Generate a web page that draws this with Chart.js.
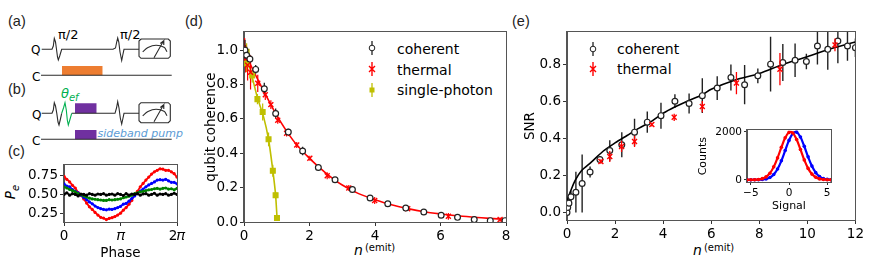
<!DOCTYPE html>
<html><head><meta charset="utf-8">
<style>
html,body{margin:0;padding:0;background:#fff;width:872px;height:275px;overflow:hidden}
canvas{position:absolute}
.t{position:absolute;white-space:nowrap;transform:translateY(-50%);color:#000;font-family:"DejaVu Sans",sans-serif;line-height:1}
.p{font-family:"Liberation Sans",sans-serif;font-size:14.5px;color:#222}
.l{font-size:14px}
.s{position:absolute}
</style>
<script src="https://cdn.jsdelivr.net/npm/chart.js@4"></script>
</head><body>
<div class="t p" style="left:8px;top:21px">(a)</div>
<div class="t p" style="left:8px;top:89px">(b)</div>
<div class="t p" style="left:8px;top:151px">(c)</div>
<div class="t p" style="left:185px;top:21px">(d)</div>
<div class="t p" style="left:512px;top:21px">(e)</div>
<div class="t" style="left:58px;top:34px;font-size:13px">π/2</div>
<div class="t" style="left:120px;top:34px;font-size:13px">π/2</div>
<div class="t" style="left:31px;top:50px;font-size:12px">Q</div>
<div class="t" style="left:32px;top:77px;font-size:12px">C</div>
<div class="t" style="left:32px;top:115px;font-size:12px">Q</div>
<div class="t" style="left:32px;top:141px;font-size:12px">C</div>
<div class="t" style="left:61px;top:93px;font-size:13px;font-style:italic;color:#00b050">θ<sub style="font-size:10px;line-height:0">ef</sub></div>
<div class="t" style="left:97.5px;top:133px;font-size:11px;font-style:italic;color:#5b9bd5">sideband pump</div>
<div class="t" style="left:4px;top:192px;font-size:13.5px;transform:translateY(-50%) rotate(-90deg);font-style:italic">P<sub style="font-size:10px;line-height:0">e</sub></div>
<div class="t" style="left:354px;top:250px;font-size:14px;font-style:italic">n<span style="position:relative;top:-4px;left:2px;font-size:10px;font-style:normal">(emit)</span></div>
<div class="t" style="left:693px;top:250px;font-size:14px;font-style:italic">n<span style="position:relative;top:-4px;left:2px;font-size:10px;font-style:normal">(emit)</span></div>

<svg class="s" style="left:365px;top:41px" width="14" height="14"><path d="M7 0V14" stroke="#222" stroke-width="1.3"/><circle cx="7" cy="7" r="2.8" fill="#fff" stroke="#222"/></svg>
<svg class="s" style="left:365px;top:62px" width="14" height="14"><path d="M7 0V14M4 4L10 10M10 4L4 10" stroke="#f00" stroke-width="1.4"/></svg>
<svg class="s" style="left:365px;top:83px" width="14" height="14"><path d="M7 0V14" stroke="#bfbf00" stroke-width="1.3"/><rect x="4.5" y="4.5" width="5" height="5" fill="#bfbf00"/></svg>
<div class="t l" style="left:397px;top:49px">coherent</div>
<div class="t l" style="left:397px;top:70px">thermal</div>
<div class="t l" style="left:397px;top:90px">single-photon</div>
<svg class="s" style="left:586px;top:42px" width="14" height="14"><path d="M7 0V14" stroke="#222" stroke-width="1.3"/><circle cx="7" cy="7" r="2.8" fill="#fff" stroke="#222"/></svg>
<svg class="s" style="left:586px;top:62px" width="14" height="14"><path d="M7 0V14M4 4L10 10M10 4L4 10" stroke="#f00" stroke-width="1.4"/></svg>
<div class="t l" style="left:617px;top:49px">coherent</div>
<div class="t l" style="left:617px;top:69px">thermal</div>

<script>
// ---------- panel (c)
const phase=[0,.05,.1,.15,.2,.25,.3,.35,.4,.45,.5,.55,.6,.65,.7,.75,.8,.85,.9,.95,1,1.05,1.1,1.15,1.2,1.25,1.3,1.35,1.4,1.45,1.5,1.55,1.6,1.65,1.7,1.75,1.8,1.85,1.9,1.95,2];
const peRed=[.74,.70,.665,.62,.585,.525,.49,.44,.385,.335,.30,.26,.225,.195,.185,.165,.18,.19,.205,.225,.25,.29,.325,.37,.42,.50,.54,.60,.645,.69,.73,.77,.80,.82,.84,.835,.82,.82,.80,.775,.73];
const peBlue=[.64,.61,.60,.565,.54,.52,.49,.46,.43,.40,.375,.345,.325,.31,.30,.295,.305,.30,.31,.325,.34,.37,.38,.41,.445,.48,.51,.545,.57,.60,.625,.645,.665,.69,.695,.69,.70,.68,.66,.66,.64];
const peGreen=[.60,.585,.565,.55,.535,.51,.495,.48,.465,.45,.44,.435,.43,.425,.42,.42,.43,.425,.43,.435,.44,.455,.465,.475,.49,.51,.52,.535,.54,.55,.56,.565,.575,.58,.57,.58,.585,.57,.575,.56,.58];
const peBlack=[.50,.52,.49,.51,.50,.48,.505,.50,.49,.51,.50,.49,.505,.50,.51,.49,.50,.505,.49,.51,.50,.485,.51,.49,.505,.50,.51,.49,.505,.51,.49,.50,.515,.49,.505,.50,.51,.49,.50,.515,.50];
const phaseTicks={0:"0",1:"𝜋",2:"2𝜋"};
// ---------- panel (d)
const cohDx=[.03,.08,.18,.357,.62,.967,1.353,1.79,2.27,2.78,3.31,3.85,4.39,4.94,5.49,6.02,6.52,7.03,7.52,7.97];
const cohDy=[1.0,.97,.948,.888,.775,.631,.523,.413,.317,.246,.189,.14,.106,.081,.058,.039,.027,.014,.008,.008];
const cohDe=[.06,.05,.025,.025,.035,.03,.02,.025,.012,.012,.018,.01,.008,.012,.008,.008,.006,.006,.006,.006];
const thDx=[.02,.05,.11,.2,.42,.65,.82,1.03,1.3,1.61,2.01,2.54,3.2,3.99,5,6.24,7.82];
const thDy=[1.0,.95,.913,.871,.807,.74,.683,.592,.516,.448,.371,.269,.198,.125,.077,.033,.014];
const thDe=[.07,.08,.09,.1,.05,.03,.025,.02,.018,.018,.015,.02,.018,.02,.012,.02,.012];
const spX=[.08,.08,.25,.41,.57,.75,.88,.965,1.007];
const spY=[.99,.923,.852,.715,.64,.481,.298,.156,.023];
const spE=[.05,.05,.04,.03,.05,.04,.035,.02,.012];
const spFitX=[0,.2,.4,.6,.75,.88,.965,1.01];
const spFitY=[1.0,.88,.73,.61,.48,.3,.156,.02];
const fitDx=[0,.2,.5,1,1.5,2,2.5,3,3.5,4,4.5,5,5.5,6,6.5,7,7.5,8];
const fitDy=[1.0,.915,.80,.62,.475,.37,.285,.215,.165,.13,.1,.078,.06,.047,.036,.028,.021,.016];
// ---------- panel (e)
const cohEx=[0,.03,.08,.165,.37,.63,.96,1.37,1.78,2.28,2.81,3.34,3.91,4.49,5.08,5.63,6.25,6.82,7.39,7.94,8.47,8.98,9.49,9.96,10.42,10.85,11.27,11.67,12];
const cohEy=[0,.027,.05,.084,.109,.156,.218,.285,.334,.365,.433,.487,.522,.6,.588,.63,.671,.728,.689,.737,.8,.809,.821,.814,.898,.88,.925,.898,.889];
const cohEe=[.02,.03,.03,.03,.11,.157,.03,.02,.055,.067,.073,.057,.07,.037,.054,.094,.064,.07,.106,.04,.148,.1,.09,.042,.1,.11,.12,.08,.05];
const thEx=[1.41,1.78,2.27,2.81,3.53,4.46,5.63,7.05,8.86,11.15];
const thEy=[.275,.302,.356,.383,.474,.513,.571,.698,.773,.904];
const thEe=[.012,.03,.03,.03,.01,.02,.03,.06,.087,.035];
const fitEx=[0,.05,.15,.34,.6,1,1.5,2,2.5,3,3.5,4,4.5,5,5.63,6,7,8,9,10,11,12];
const fitEy=[.06,.08,.115,.173,.225,.27,.33,.375,.415,.455,.49,.535,.57,.60,.635,.665,.715,.75,.80,.84,.885,.92];
// ---------- inset
const signal=[-5.5,-5,-4.5,-4,-3.5,-3,-2.5,-2,-1.5,-1,-.5,0,.5,1,1.5,2,2.5,3,3.5,4,4.5,5,5.5];
const countsRed=[0,2,5,17,49,125,278,541,916,1355,1752,1978,1952,1682,1266,832,478,240,106,40,13,4,0];
const countsBlue=[0,0,1,3,12,37,97,223,450,794,1223,1645,1935,1988,1784,1400,958,574,300,137,55,19,6];
const countTicks=[0,2000];
// ---------- schematic
const qA=[[41.7,49.3],[52,49.3],[53.3,46],[54.3,38.5],[55.5,42],[56.5,49.3],[57.5,57],[58.3,60],[59.7,56],[61.7,49.3],[113,49.3],[115.5,48],[116.7,42],[117.7,38],[118.8,42],[120,52],[121.7,60.5],[122.8,55],[124,49.3],[139,49.3]];
const cA=[[41,75.3],[171.7,75.3]];
const orangeX=[62,102.7];
const orangeTop=66, orangeBase=75.3;
const qB1=[[41.7,113.3],[52,113.3],[53.3,110],[54.3,102.7],[55.5,106],[56.8,113.3],[58,122],[59,125],[60.2,120],[61.7,113.3]];
const qBg=[[61.7,113.3],[63.5,108],[65,102.7],[66.3,110],[67.3,120],[68.3,125],[69.8,120],[71.7,113.3]];
const qB2=[[71.7,113.3],[115,113.3],[116.5,108],[117.7,101.7],[119,108],[120.3,118],[121.7,124],[122.8,119],[124,113.3],[139,113.3]];
const cB=[[41,139.3],[171.7,139.3]];
const purpleX=[75,96.7];
const purpleTop1=103.3, purpleBase1=113.3, purpleTop2=130, purpleBase2=139.3;
const boxA=[[141,39],[168.3,39],[170.3,41],[170.3,56.3],[168.3,58.3],[141,58.3],[139,56.3],[139,41],[141,39]];
const arcA=[[142.7,51.7],[148,47.5],[156,45.3],[164,47.3],[167,51.7]];
const needleA=[[154,57.7],[163.5,41],[160.3,43.5],[163.5,41],[163.8,45]];
const boxB=[[141,102.7],[168.3,102.7],[170.3,104.7],[170.3,120.7],[168.3,122.7],[141,122.7],[139,120.7],[139,104.7],[141,102.7]];
const arcB=[[142.7,115.7],[148,111.5],[156,109.3],[164,111.3],[167,115.7]];
const needleB=[[154,121.7],[163.5,105],[160.3,107.5],[163.5,105],[163.8,109]];

Chart.defaults.font.family='"DejaVu Sans",sans-serif';
Chart.defaults.color='#000';
const xy=(a,b)=>a.map((v,i)=>({x:v,y:b[i]}));
const pairs=a=>a.map(p=>({x:p[0],y:p[1]}));
const bars=(x,y,e)=>x.flatMap((v,i)=>[{x:v,y:y[i]-e[i]},{x:v,y:y[i]+e[i]},{x:v,y:null}]);
const frame={id:'frame',afterDatasetsDraw(c){const a=c.chartArea,g=c.ctx;g.save();g.strokeStyle='#555';g.lineWidth=1;
  g.strokeRect(Math.round(a.left)-.5,Math.round(a.top)-.5,Math.round(a.right-a.left)+1,Math.round(a.bottom-a.top)+1);g.restore();}};
function panel(box,plot,type,o){
  const [L,T,R,B]=box,[pL,pT,pR,pB]=plot;
  const cv=document.createElement('canvas');
  cv.width=R-L;cv.height=B-T;cv.style.left=L+'px';cv.style.top=T+'px';cv.style.width=(R-L)+'px';cv.style.height=(B-T)+'px';
  document.body.appendChild(cv);
  const fs=o.font, tl=o.tick||4;
  const ax=(extra,afterFit)=>Object.assign({type:'linear',grid:{drawOnChartArea:false,drawTicks:true,tickLength:tl,color:'#333'},border:{color:'#555'},afterFit},extra);
  const tk=(extra)=>Object.assign({font:{size:fs},color:'#000',padding:2,maxRotation:0,minRotation:0,autoSkip:false,includeBounds:false},extra);
  const yOpts=ax({min:o.y[0],max:o.y[1],title:o.yt?{display:true,text:o.yt,font:{size:o.tf||fs},padding:0,color:'#000'}:{display:false},
        ticks:tk({stepSize:o.y[2],callback:o.yf})},s=>{s.width=pL-L});
  if(o.yTicks) yOpts.afterBuildTicks=s=>{s.ticks=o.yTicks.map(v=>({value:v}))};
  new Chart(cv,{type:'line',data:{datasets:o.datasets},plugins:[frame],options:{
    responsive:false,animation:false,devicePixelRatio:1,
    layout:{autoPadding:false,padding:{left:0,bottom:0,top:pT-T,right:R-pR}},
    plugins:{legend:{display:false},tooltip:{enabled:false}},
    elements:{line:{borderCapStyle:'butt'}},
    scales:{
      x:ax({min:o.x[0],max:o.x[1],title:o.xt?{display:true,text:o.xt,font:{size:o.tf||fs},padding:0,color:'#000'}:{display:false},
        ticks:tk({stepSize:o.x[2],callback:o.xf||(v=>String(v).replace('-','\u2212'))})},s=>{s.height=B-pB}),
      y:yOpts
    }}});
}
const line=(data,color,w,extra)=>Object.assign({data,borderColor:color,borderWidth:w,pointRadius:0,fill:false,tension:0,spanGaps:false},extra||{});
const pts=(data,color,style,r,bg,extra)=>Object.assign({data,showLine:false,pointStyle:style,pointRadius:r,pointBorderColor:color,pointBackgroundColor:bg,pointBorderWidth:1.2},extra||{});

// schematic: hidden axes spanning the page region
(function(){
  const cv=document.createElement('canvas');cv.width=200;cv.height=150;cv.style.left='0';cv.style.top='0';cv.style.width='200px';cv.style.height='150px';
  document.body.appendChild(cv);
  const rect=(xs,top,base,color)=>({data:[{x:xs[0],y:top},{x:xs[1],y:top}],borderWidth:0,pointRadius:0,backgroundColor:color,fill:{target:{value:base}},tension:0});
  const k='#2b2b2b';
  const w=(d,c,t)=>line(pairs(d),c,1.1,{tension:t||0});
  new Chart(cv,{type:'line',data:{datasets:[
    w(qA,k),w(cA,k),w(qB1,k),w(qBg,'#00b050'),w(qB2,k),w(cB,k),
    w(boxA,k),w(arcA,k,.4),w(needleA,k),w(boxB,k),w(arcB,k,.4),w(needleB,k),
    rect(orangeX,orangeTop,orangeBase,'#ed7d31'),rect(purpleX,purpleTop1,purpleBase1,'#7030a0'),rect(purpleX,purpleTop2,purpleBase2,'#7030a0')
  ]},options:{responsive:false,animation:false,devicePixelRatio:1,layout:{autoPadding:false,padding:0},
    plugins:{legend:{display:false},tooltip:{enabled:false}},
    scales:{x:{type:'linear',display:false,min:0,max:200},y:{type:'linear',display:false,min:0,max:150,reverse:true}}}});
})();

// panel c
panel([0,155,195,262],[64,162,177,222],'line',{font:13.5,x:[0,2,1],y:[.133,.889,.25],xt:'Phase',
  xf:v=>phaseTicks[v],yf:v=>v.toFixed(2),
  datasets:[
   ['#000',peBlack],['#008000',peGreen],['#00f',peBlue],['#f00',peRed]
  ].map(([c,d])=>({data:xy(phase,d),borderColor:c,borderWidth:1.8,pointRadius:1.6,pointBackgroundColor:c,pointBorderWidth:0,tension:0}))});

// panel d
panel([203,22,520,262],[244,30,506,222],'line',{font:13.5,x:[0,8,2],y:[0,1.105,.2],yt:'qubit coherence',
  xf:v=>String(v),yf:v=>v.toFixed(1),
  datasets:[
   pts(xy(cohDx,cohDy),'#222','circle',2.9,'#fff'),
   pts(xy(thDx,thDy),'#f00','crossRot',3.5,'#f00',{pointBorderWidth:1.4}),
   pts(xy(spX,spY),'#bfbf00','rect',3.4,'#bfbf00'),
   line(bars(cohDx,cohDy,cohDe),'#222',1.3),
   line(bars(thDx,thDy,thDe),'#f00',1.2),
   line(xy(fitDx,fitDy),'#f00',1.6,{tension:.3}),
   line(bars(spX,spY,spE),'#bfbf00',1.2),
   line(xy(spFitX,spFitY),'#bfbf00',1.6,{tension:.2})
  ]});

// panel e
panel([522,22,866,262],[567,31,858,220],'line',{font:13.5,x:[0,12,2],y:[-.041,.973,.2],yt:'SNR',
  xf:v=>String(v),yf:v=>v.toFixed(1),
  datasets:[
   pts(xy(thEx,thEy),'#f00','crossRot',3.5,'#f00',{pointBorderWidth:1.4}),
   line(bars(thEx,thEy,thEe),'#f00',1.3),
   pts(xy(cohEx,cohEy),'#222','circle',2.9,'#fff'),
   line(xy(fitEx,fitEy),'#000',1.6,{tension:.3}),
   line(bars(cohEx,cohEy,cohEe),'#222',1.4)
  ]});

// inset
panel([697,122,840,213],[747,127,831,182],'line',{font:10.5,tf:11,tick:3,x:[-5.5,5.5,5],y:[-90,2066,2000],yTicks:countTicks,xt:'Signal',yt:'Counts',
  xf:v=>String(v).replace('-','\u2212'),yf:v=>String(v),
  datasets:[
   {data:xy(signal,countsRed),borderColor:'#f00',borderWidth:2.2,pointRadius:1.8,pointBackgroundColor:'#f00',pointBorderWidth:0,tension:.35},
   {data:xy(signal,countsBlue),borderColor:'#00f',borderWidth:2.2,pointRadius:1.8,pointBackgroundColor:'#00f',pointBorderWidth:0,tension:.35}
  ]});
</script>
</body></html>
